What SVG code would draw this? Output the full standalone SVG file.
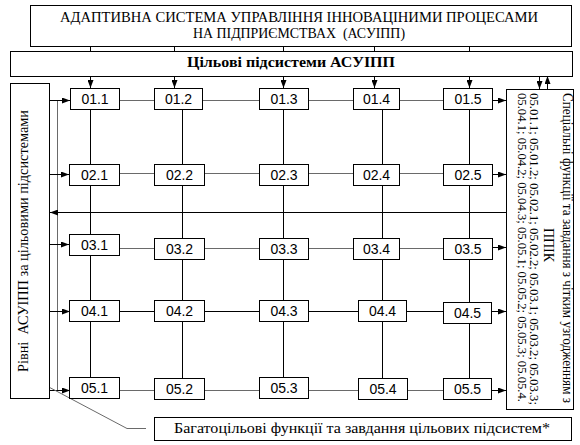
<svg xmlns="http://www.w3.org/2000/svg" width="580" height="445" viewBox="0 0 580 445">
<style>
.bx{fill:#fff;stroke:#000;stroke-width:1}
.ln{fill:none;stroke:#000;stroke-width:1}
.gl{fill:none;stroke:#6a6a6a;stroke-width:1}
.ar{marker-end:url(#ah)}
.sf{font-family:"Liberation Serif","Times New Roman",serif;fill:#000}
.nd{font-family:"Liberation Sans",Arial,sans-serif;font-size:14px;fill:#000;text-anchor:middle}
</style>
<defs>
<marker id="ah" viewBox="0 0 8 6" refX="8" refY="3" markerWidth="8" markerHeight="6" orient="auto" markerUnits="userSpaceOnUse">
<path d="M0,0 L8,3 L0,6 z" fill="#000"/>
</marker>
</defs>
<g id="connectors">
<path class="ln" d="M90.5,46 V51 M174.5,46 V51 M283.5,46 V51 M374.5,46 V51 M469.5,46 V51"/>
<path class="ln ar" d="M90.5,76 V88"/>
<path class="ln ar" d="M174.5,76 V88"/>
<path class="ln ar" d="M283.5,76 V88"/>
<path class="ln ar" d="M374.5,76 V88"/>
<path class="ln ar" d="M469.5,76 V88"/>
<path class="ln ar" d="M539.5,76 V89"/>
<path class="ln ar" d="M547.5,89 V76"/>
<path class="ln" d="M90.5,109 V377 M182.5,109 V378 M283.5,109 V378 M382.5,109 V378 M469.5,109 V379"/>
<path class="gl" d="M119,100.5 H443 M119,173.5 H443 M119,248.5 H443 M119,390.5 H443"/>
<path class="ln" d="M119,311.5 H443"/>
<path class="ln ar" d="M492,100.5 H506"/>
<path class="ln ar" d="M492,174.5 H506"/>
<path class="ln ar" d="M492,247.5 H506"/>
<path class="ln ar" d="M491,311.5 H506"/>
<path class="ln ar" d="M491,390.5 H506"/>
<path class="gl" d="M57.5,100.5 V390.5"/>
<path class="ln ar" d="M50,100.5 H70"/>
<path class="ln ar" d="M50,174.5 H69"/>
<path class="ln ar" d="M50,244.5 H69"/>
<path class="ln ar" d="M50,311.5 H70"/>
<path class="ln ar" d="M50,390.5 H70"/>
<path class="ln ar" d="M506,212.5 H50"/>
<path class="gl" d="M28,376 L127,428.5 H146"/>
</g>
<g id="title">
<rect class="bx" x="30.5" y="5.5" width="541" height="41"/>
<text class="sf" x="299" y="21.5" font-size="15" text-anchor="middle" textLength="478" lengthAdjust="spacingAndGlyphs">АДАПТИВНА СИСТЕМА УПРАВЛІННЯ ІННОВАЦІНИМИ ПРОЦЕСАМИ</text>
<text class="sf" x="299" y="37.5" font-size="15" text-anchor="middle" textLength="212" lengthAdjust="spacingAndGlyphs" xml:space="preserve">НА ПІДПРИЄМСТВАХ  (АСУІПП)</text>
</g>
<g id="subsystems">
<rect class="bx" x="10.5" y="51.5" width="562" height="25"/>
<text class="sf" x="291" y="66.5" font-size="15" font-weight="bold" text-anchor="middle" textLength="208" lengthAdjust="spacingAndGlyphs">Цільові підсистеми АСУІПП</text>
</g>
<g id="levels">
<rect class="bx" x="10.5" y="83.5" width="39" height="315"/>
<text class="sf" transform="translate(28,241) rotate(-90)" font-size="15" text-anchor="middle" textLength="262" lengthAdjust="spacingAndGlyphs" xml:space="preserve">Рівні  АСУІПП за цільовими підсистемами</text>
</g>
<g id="special">
<rect class="bx" x="506.5" y="89.5" width="67" height="320"/>
<text class="sf" transform="translate(563,93) rotate(90)" font-size="14" textLength="310" lengthAdjust="spacingAndGlyphs">Спеціальні функції та завдання з чітким узгодженням з</text>
<text class="sf" transform="translate(544,228) rotate(90)" font-size="14" textLength="34" lengthAdjust="spacingAndGlyphs">ППІК</text>
<text class="sf" transform="translate(530,93) rotate(90)" font-size="13" textLength="312" lengthAdjust="spacingAndGlyphs">05.01.1; 05.01.2; 05.02.1; 05.02.2; 05.03.1; 05.03.2; 05.03.3;</text>
<text class="sf" transform="translate(517.5,93) rotate(90)" font-size="13" textLength="309" lengthAdjust="spacingAndGlyphs">05.04.1; 05.04.2; 05.04.3; 05.05.1; 05.05.2; 05.05.3; 05.05.4.</text>
</g>
<g id="n01_1"><rect class="bx" x="70.5" y="88.5" width="49" height="21"/><text class="nd" x="95" y="103.5">01.1</text></g>
<g id="n01_2"><rect class="bx" x="154.5" y="88.5" width="48" height="21"/><text class="nd" x="178.5" y="103.5">01.2</text></g>
<g id="n01_3"><rect class="bx" x="259.5" y="88.5" width="49" height="21"/><text class="nd" x="284" y="103.5">01.3</text></g>
<g id="n01_4"><rect class="bx" x="353.5" y="88.5" width="46" height="21"/><text class="nd" x="376.5" y="103.5">01.4</text></g>
<g id="n01_5"><rect class="bx" x="443.5" y="88.5" width="49" height="21"/><text class="nd" x="468" y="103.5">01.5</text></g>
<g id="n02_1"><rect class="bx" x="69.5" y="164.5" width="50" height="21"/><text class="nd" x="94.5" y="179.5">02.1</text></g>
<g id="n02_2"><rect class="bx" x="154.5" y="164.5" width="50" height="21"/><text class="nd" x="179.5" y="179.5">02.2</text></g>
<g id="n02_3"><rect class="bx" x="259.5" y="164.5" width="49" height="21"/><text class="nd" x="284" y="179.5">02.3</text></g>
<g id="n02_4"><rect class="bx" x="353.5" y="164.5" width="46" height="21"/><text class="nd" x="376.5" y="179.5">02.4</text></g>
<g id="n02_5"><rect class="bx" x="443.5" y="164.5" width="49" height="21"/><text class="nd" x="468" y="179.5">02.5</text></g>
<g id="n03_1"><rect class="bx" x="69.5" y="234.5" width="50" height="21"/><text class="nd" x="94.5" y="249.5">03.1</text></g>
<g id="n03_2"><rect class="bx" x="154.5" y="238.5" width="50" height="21"/><text class="nd" x="179.5" y="253.5">03.2</text></g>
<g id="n03_3"><rect class="bx" x="259.5" y="238.5" width="49" height="21"/><text class="nd" x="284" y="253.5">03.3</text></g>
<g id="n03_4"><rect class="bx" x="353.5" y="238.5" width="46" height="21"/><text class="nd" x="376.5" y="253.5">03.4</text></g>
<g id="n03_5"><rect class="bx" x="443.5" y="238.5" width="49" height="21"/><text class="nd" x="468" y="253.5">03.5</text></g>
<g id="n04_1"><rect class="bx" x="69.5" y="300.5" width="50" height="21"/><text class="nd" x="94.5" y="315.5">04.1</text></g>
<g id="n04_2"><rect class="bx" x="154.5" y="300.5" width="50" height="21"/><text class="nd" x="179.5" y="315.5">04.2</text></g>
<g id="n04_3"><rect class="bx" x="259.5" y="300.5" width="49" height="21"/><text class="nd" x="284" y="315.5">04.3</text></g>
<g id="n04_4"><rect class="bx" x="358.5" y="300.5" width="48" height="21"/><text class="nd" x="382.5" y="315.5">04.4</text></g>
<g id="n04_5"><rect class="bx" x="443.5" y="302.5" width="48" height="21"/><text class="nd" x="467.5" y="317.5">04.5</text></g>
<g id="n05_1"><rect class="bx" x="69.5" y="377.5" width="50" height="21"/><text class="nd" x="94.5" y="392.5">05.1</text></g>
<g id="n05_2"><rect class="bx" x="154.5" y="378.5" width="50" height="21"/><text class="nd" x="179.5" y="393.5">05.2</text></g>
<g id="n05_3"><rect class="bx" x="259.5" y="377.5" width="49" height="21"/><text class="nd" x="284" y="392.5">05.3</text></g>
<g id="n05_4"><rect class="bx" x="358.5" y="378.5" width="49" height="21"/><text class="nd" x="383" y="393.5">05.4</text></g>
<g id="n05_5"><rect class="bx" x="443.5" y="378.5" width="48" height="21"/><text class="nd" x="467.5" y="393.5">05.5</text></g>
<g id="multi">
<rect class="bx" x="154.5" y="417.5" width="417" height="23"/>
<text class="sf" x="362" y="432.5" font-size="15" text-anchor="middle" textLength="376" lengthAdjust="spacingAndGlyphs">Багатоцільові функції та завдання цільових підсистем*</text>
</g>
</svg>
